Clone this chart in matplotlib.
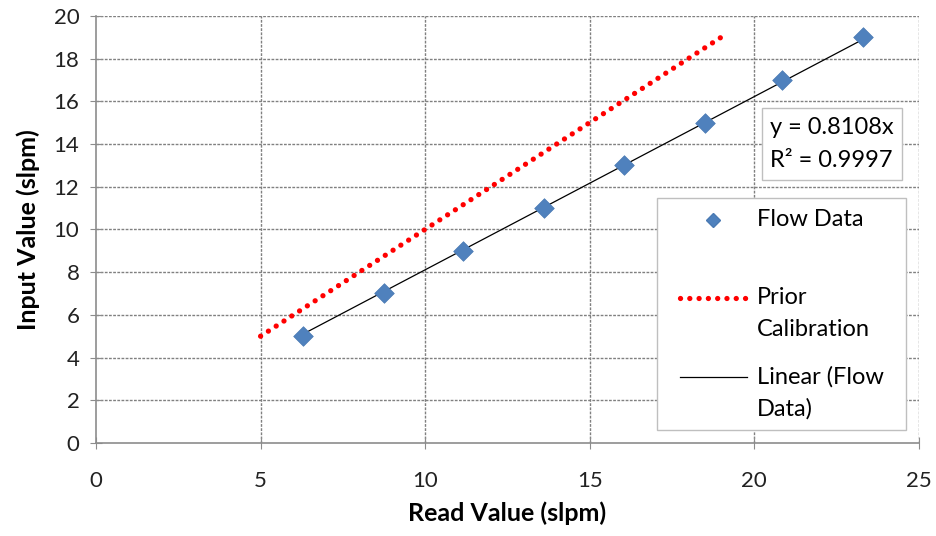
import matplotlib.pyplot as plt
from matplotlib.lines import Line2D
from matplotlib.patches import Rectangle

plt.rcParams['font.family'] = ['Lato', 'DejaVu Sans']

# measured flow points
read_vals = [6.3, 8.75, 11.15, 13.6, 16.05, 18.5, 20.85, 23.3]
input_vals = [5, 7, 9, 11, 13, 15, 17, 19]

# previous calibration (1:1)
prior_x = [5, 19]
prior_y = [5, 19]

slope = 0.8108
r2 = 0.9997

legend_labels = ['Flow Data', 'Prior\nCalibration', 'Linear (Flow\nData)']

W, H = 937, 536


def px(x, y):
    # pixel position (from top-left) -> figure fraction
    return x / W, 1 - y / H


fig = plt.figure(figsize=(W / 100, H / 100), dpi=100)
ax = fig.add_axes([0.1025, 0.1735, 0.878, 0.797])

grid_kw = dict(color='#808080', linestyle=(0, (2, 1)), linewidth=1.0)
for yv in range(2, 21, 2):
    ax.axhline(yv, zorder=0, **grid_kw)
for xv in range(5, 26, 5):
    ax.axvline(xv, zorder=0, **grid_kw)

dots = (0, (0.01, 1.75))
red_kw = dict(color='#ff0000', linestyle=dots, linewidth=3.8,
              dash_capstyle='round')
ax.plot(prior_x, prior_y, zorder=2, **red_kw)

fit_x = [read_vals[0], read_vals[-1]]
fit_y = [slope * v for v in fit_x]
ax.plot(fit_x, fit_y, color='black', linewidth=0.9, zorder=3)

ax.scatter(read_vals, input_vals, marker='D', s=100, color='#4f81bd',
           edgecolor='#4a7ab3', linewidth=0.5, zorder=4)

ax.set_xlim(0, 25)
ax.set_ylim(0, 20)
ax.set_xticks(range(0, 26, 5))
ax.set_yticks(range(0, 21, 2))
ax.tick_params(direction='inout', length=8, color='#8c8c8c', labelsize=16,
               labelcolor='#222222', pad=8)
ax.tick_params(axis='x', pad=16)
for side in ['top', 'right']:
    ax.spines[side].set_visible(False)
for side in ['left', 'bottom']:
    ax.spines[side].set_color('#8c8c8c')
    ax.spines[side].set_linewidth(1.2)

ax.set_xlabel('Read Value (slpm)', fontsize=18, fontweight='bold', labelpad=8)
ax.set_ylabel('Input Value (slpm)', fontsize=18, fontweight='bold', labelpad=10)

# trendline equation box
fig.text(*px(770, 144), f'y = {slope}x\nR² = {r2}',
         fontsize=17, va='center', ha='left', linespacing=1.75,
         bbox=dict(facecolor='white', edgecolor='#bfbfbf', boxstyle='square,pad=0.35'))

# legend, laid out by hand so handles line up with the first text line
x0, y0 = px(657, 430)
x1, y1 = px(906, 198)
fig.add_artist(Rectangle((x0, y0), x1 - x0, y1 - y0, transform=fig.transFigure,
                         facecolor='white', edgecolor='#bfbfbf', linewidth=1.0,
                         zorder=5))

row_y = [220, 298, 377]
hx0, hx1, tx = 680, 747, 757
fig.add_artist(Line2D([px(713, 0)[0]], [px(0, row_y[0])[1]], marker='D',
                      markersize=7, color='#4f81bd', markeredgecolor='#4a7ab3',
                      linestyle='none', transform=fig.transFigure, zorder=6))
fig.add_artist(Line2D([px(hx0, 0)[0], px(hx1, 0)[0]], [px(0, row_y[1])[1]] * 2,
                      transform=fig.transFigure, zorder=6, **red_kw))
fig.add_artist(Line2D([px(hx0, 0)[0], px(hx1, 0)[0]], [px(0, row_y[2])[1]] * 2,
                      color='black', linewidth=0.9, transform=fig.transFigure,
                      zorder=6))
for label, ry in zip(legend_labels, row_y):
    for i, line in enumerate(label.split('\n')):
        t = fig.text(*px(tx, ry + i * 32), line, fontsize=17, ha='left',
                     va='center')
        t.set_zorder(7)

fig.savefig('out.png', dpi=100)
